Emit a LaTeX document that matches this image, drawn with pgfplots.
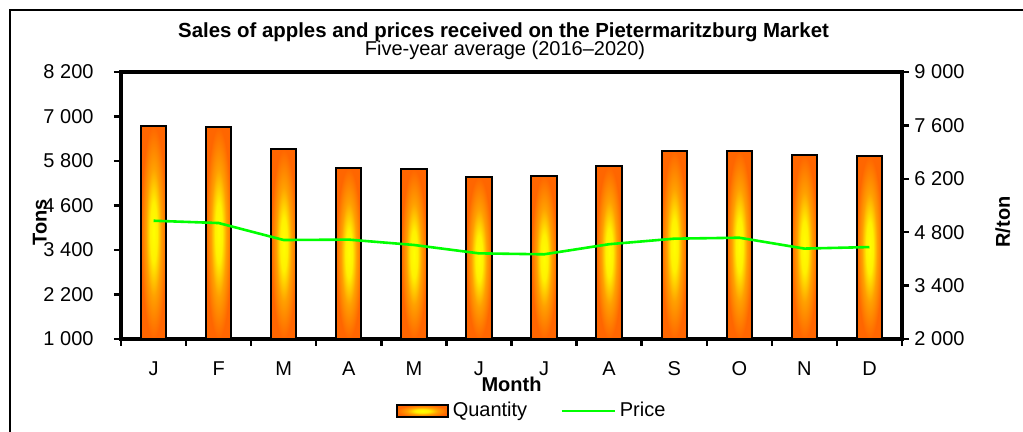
\documentclass[border=0pt]{standalone}
\usepackage{fontspec}
\setmainfont{Liberation Sans}
\usepackage{pgfplots}
\pgfplotsset{compat=1.18}
\definecolor{barout}{RGB}{255,102,0}
\definecolor{barmid}{RGB}{255,160,0}
\definecolor{barin}{RGB}{255,255,0}
\definecolor{pricegreen}{RGB}{0,255,0}
\pgfdeclareradialshading{barshade}{\pgfpoint{0bp}{0bp}}{color(0bp)=(barin); color(7bp)=(barin!85!barmid); color(15bp)=(barmid); color(25bp)=(barout); color(50bp)=(barout)}
\begin{document}
\begin{tikzpicture}[font=\fontsize{10}{12}\selectfont]
\pgfplotsset{
  common/.style={width=390.5pt, height=133.5pt, scale only axis, clip=false,
    xmin=-0.5, xmax=11.5, tick align=outside,
    line width=1.8pt,
    major tick length=3.5pt, minor tick length=3.5pt,
    every tick/.style={black, line width=1.2pt},
    axis line style={line width=1.8pt},
    tick label style={font=\fontsize{10}{12}\selectfont},
    label style={font=\bfseries\fontsize{10}{12}\selectfont}},
  qbar/.style={ybar, bar shift=0pt, bar width=12.7pt, draw=black, line width=1pt, shading=barshade}
}
\begin{axis}[common,
  ymin=1000, ymax=8200,
  ytick={1000,2200,3400,4600,5800,7000,8200},
  yticklabels={1 000,2 200,3 400,4 600,5 800,7 000,8 200},
  ytick pos=left, xtick pos=left,
  xtick={0,...,11}, xticklabels={J,F,M,A,M,J,J,A,S,O,N,D},
  minor xtick={-0.5,0.5,...,11.5},
  major x tick style={draw=none},
  xticklabel style={yshift=-3.5pt},
  yticklabel style={xshift=-6pt},
  xlabel={Month},
  xlabel style={at={(axis description cs:0.5,-0.17)}, anchor=center},
  ylabel={Tons},
  ylabel style={at={(axis description cs:-0.104,0.438)}, anchor=center}]
\addplot[qbar] coordinates {(0,6750)};
\addplot[qbar] coordinates {(1,6720)};
\addplot[qbar] coordinates {(2,6115)};
\addplot[qbar] coordinates {(3,5610)};
\addplot[qbar] coordinates {(4,5575)};
\addplot[qbar] coordinates {(5,5370)};
\addplot[qbar] coordinates {(6,5405)};
\addplot[qbar] coordinates {(7,5655)};
\addplot[qbar] coordinates {(8,6070)};
\addplot[qbar] coordinates {(9,6070)};
\addplot[qbar] coordinates {(10,5955)};
\addplot[qbar] coordinates {(11,5925)};
\coordinate (bl) at (axis description cs:-0.15493,-0.34831);
\coordinate (tr) at (axis description cs:1.15493,1.26966);
\draw[line width=1.4pt] (axis description cs:-0.1421,-0.5) -- (axis description cs:-0.1421,1.2322) -- (axis description cs:1.3,1.2322);
\node[anchor=base, font=\bfseries\fontsize{10.2}{12}\selectfont] at (axis description cs:0.4898,1.131) {Sales of apples and prices received on the Pietermaritzburg Market};
\node[anchor=base] at (axis description cs:0.4917,1.060) {Five-year average (2016--2020)};
\end{axis}
\begin{axis}[common,
  ymin=2000, ymax=9000,
  ytick={2000,3400,4800,6200,7600,9000},
  yticklabels={2 000,3 400,4 800,6 200,7 600,9 000},
  axis y line*=right, axis x line=none,
  yticklabel style={xshift=-1.5pt},
  ylabel={R/ton},
  ylabel style={at={(axis description cs:1.129,0.438)}, anchor=center},
  legend style={at={(axis description cs:0.527,-0.2697)}, anchor=center, draw=none, fill=none,
    legend columns=2, font=\fontsize{10}{12}\selectfont,
    /tikz/every even column/.append style={column sep=14.5pt}}]
\addlegendimage{legend image code/.code={\draw[draw=black, line width=1pt, shading=barshade] (0pt,-3pt) rectangle (25.5pt,3pt);}}
\addlegendentry{Quantity}
\addplot[pricegreen, line width=1.3pt, mark=none, legend image code/.code={\draw[pricegreen, line width=1.3pt] (0pt,0pt) -- (26.5pt,0pt);}]
  coordinates {(0,5100) (1,5040) (2,4595) (3,4605) (4,4465) (5,4245) (6,4220) (7,4485) (8,4630) (9,4655) (10,4370) (11,4410)};
\addlegendentry{Price}
\end{axis}
\pgfresetboundingbox
\useasboundingbox (bl) rectangle (tr);
\end{tikzpicture}
\end{document}
